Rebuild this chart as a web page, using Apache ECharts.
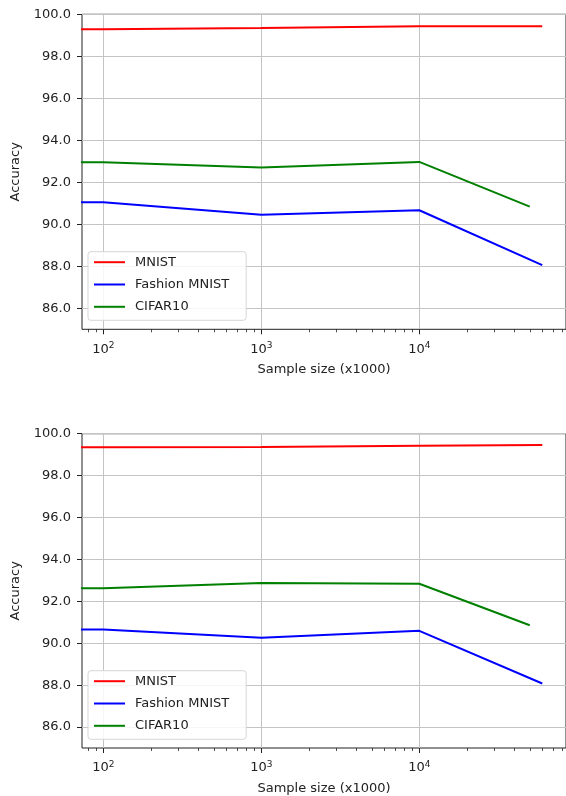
<!DOCTYPE html>
<html>
<head>
<meta charset="utf-8">
<script src="https://cdn.jsdelivr.net/npm/echarts@6/dist/echarts.min.js"></script>
<style>html,body{margin:0;padding:0;background:#fff}#c{width:566px;height:796px}</style>
</head>
<body>
<div id="c"></div>
<script>
// Sample sizes (x1000)
const sampleSizes = [10, 100, 1000, 10000, 60000];
const cifarSizes = [10, 100, 1000, 10000, 50000];
// Top chart accuracies
const topMnist = [99.29, 99.29, 99.35, 99.43, 99.43];
const topFashion = [91.05, 91.05, 90.46, 90.67, 88.06];
const topCifar = [92.95, 92.95, 92.71, 92.97, 90.84];
// Bottom chart accuracies
const botMnist = [99.35, 99.35, 99.37, 99.43, 99.46];
const botFashion = [90.65, 90.65, 90.26, 90.59, 88.08];
const botCifar = [92.62, 92.62, 92.87, 92.84, 90.86];
// Tick values
const yTicks = [86, 88, 90, 92, 94, 96, 98, 100];
const xMajor = [100, 1000, 10000];
const xMinor = [80, 90, 200, 300, 400, 500, 600, 700, 800, 900, 2000, 3000, 4000, 5000, 6000, 7000, 8000, 9000, 20000, 30000, 40000, 50000, 60000, 70000, 80000];
const names = ['MNIST', 'Fashion MNIST', 'CIFAR10'];
const colors = ['#ff0000', '#0000ff', '#008000'];

const FONT = 'DejaVu Sans';
const XMIN = 73.3, XMAX = 84800;
const grids = [
  {left: 82, top: 14.3, width: 485, height: 315},
  {left: 82, top: 433.7, width: 485, height: 314.5}
];

function pairs(xs, ys) { return xs.map((x, i) => [x, ys[i]]); }

const xAxes = [], yAxes = [], series = [], legends = [];
const sets = [[topMnist, topFashion, topCifar], [botMnist, botFashion, botCifar]];
const legendTops = [251.7, 670.7];

grids.forEach((g, gi) => {
  xAxes.push({
    type: 'log', logBase: 10, gridIndex: gi, position: 'bottom', min: XMIN, max: XMAX,
    name: 'Sample size (x1000)', nameLocation: 'middle', nameGap: 34,
    nameTextStyle: {fontFamily: FONT, fontSize: 13, color: '#222'},
    axisLine: {show: false},
    axisTick: {show: true, length: 5, customValues: xMajor, lineStyle: {color: '#222', width: 1}},
    axisLabel: {
      show: true, margin: 12, customValues: xMajor, fontFamily: FONT, fontSize: 13, color: '#222',
      formatter: v => '{b|10}{s|' + Math.round(Math.log10(v)) + '}',
      rich: {b: {fontFamily: FONT, fontSize: 13, color: '#222'}, s: {fontFamily: FONT, fontSize: 9, color: '#222', padding: [0, 0, 7, 0]}}
    },
    splitLine: {show: true, lineStyle: {color: '#c4c4c4', width: 1}},
    minorTick: {show: false}, minorSplitLine: {show: false}
  });
  xAxes.push({
    type: 'log', logBase: 10, gridIndex: gi, position: 'bottom', min: XMIN, max: XMAX,
    axisLine: {show: false},
    axisTick: {show: true, length: 3, customValues: xMinor, lineStyle: {color: '#222', width: 0.8}},
    axisLabel: {show: false},
    splitLine: {show: false}
  });
  yAxes.push({
    type: 'value', gridIndex: gi, min: 85, max: 100,
    name: 'Accuracy', nameLocation: 'middle', nameGap: 60, nameRotate: 90,
    nameTextStyle: {fontFamily: FONT, fontSize: 13, color: '#222'},
    axisLine: {show: false},
    axisTick: {show: true, length: 5, customValues: yTicks, lineStyle: {color: '#222', width: 1}},
    axisLabel: {show: true, margin: 11, customValues: yTicks, fontFamily: FONT, fontSize: 13, color: '#222', formatter: v => v.toFixed(1)},
    splitLine: {show: true, lineStyle: {color: '#c4c4c4', width: 1}}
  });
  const vals = sets[gi];
  vals.forEach((ys, si) => {
    series.push({
      name: names[si], type: 'line', xAxisIndex: gi * 2, yAxisIndex: gi,
      data: pairs(si === 2 ? cifarSizes : sampleSizes, ys),
      symbol: 'none', showSymbol: false, smooth: false, clip: true,
      lineStyle: {color: colors[si], width: 2}, itemStyle: {color: colors[si]},
      emphasis: {disabled: true}, animation: false
    });
  });
  legends.push({
    orient: 'vertical', left: 88, top: legendTops[gi],
    data: names,
    itemWidth: 31, itemHeight: 14, itemGap: 9.3,
    padding: [4, 17, 7, 5],
    itemStyle: {color: 'transparent', borderWidth: 0, opacity: 0},
    lineStyle: {width: 2},
    backgroundColor: 'rgba(255,255,255,0.85)', borderColor: '#d6d6d6', borderWidth: 1, borderRadius: 3,
    textStyle: {fontFamily: FONT, fontSize: 13, color: '#222', padding: [0, 0, 0, 5]},
    selectedMode: false
  });
});

const chart = echarts.init(document.getElementById('c'), null, {renderer: 'canvas'});
chart.setOption({
  animation: false,
  backgroundColor: '#fff',
  grid: grids.map(g => Object.assign({show: true, borderColor: '#222', borderWidth: 1, backgroundColor: 'transparent'}, g)),
  xAxis: xAxes, yAxis: yAxes, series: series, legend: legends
});
</script>
</body>
</html>
